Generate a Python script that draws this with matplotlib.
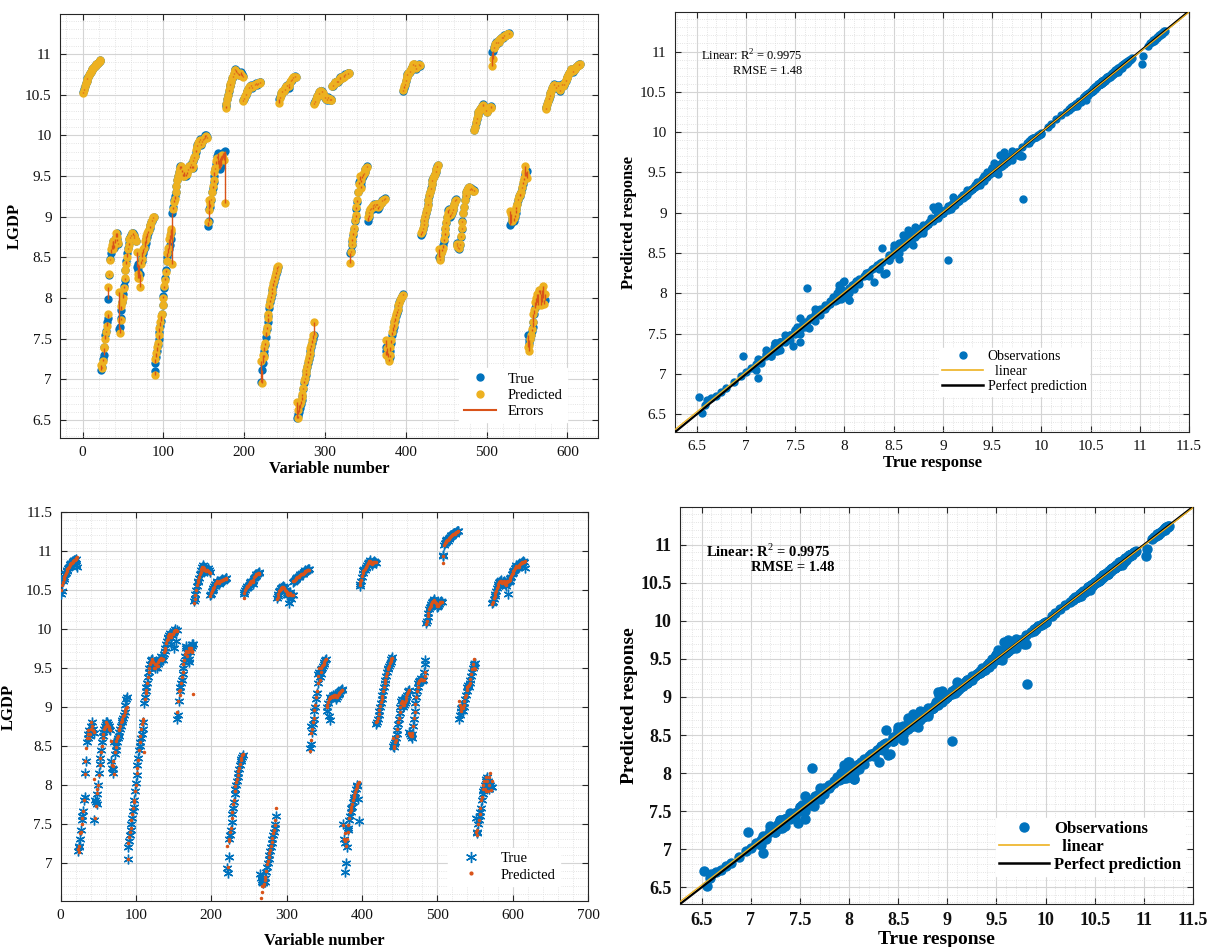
import numpy as np
import matplotlib
matplotlib.use("Agg")
import matplotlib.pyplot as plt
from matplotlib.ticker import MultipleLocator
from matplotlib.lines import Line2D

plt.rcParams['font.family'] = ['Liberation Serif', 'DejaVu Serif']
plt.rcParams['mathtext.fontset'] = 'custom'
plt.rcParams['mathtext.rm'] = 'Liberation Serif'
plt.rcParams['mathtext.bf'] = 'Liberation Serif:bold'

# LGDP, 28 groups of 22 observations each
true_lgdp = [
    10.53, 10.57, 10.61, 10.64, 10.67, 10.70, 10.72, 10.74, 10.76, 10.78, 10.80, 10.81, 10.83, 10.84, 10.85, 10.86, 10.87, 10.88, 10.89, 10.90, 10.91, 10.92,
    7.12, 7.15, 7.25, 7.30, 7.40, 7.55, 7.60, 7.70, 7.75, 7.99, 8.28, 8.48, 8.55, 8.60, 8.65, 8.70, 8.62, 8.68, 8.75, 8.80, 8.72, 8.66,
    7.62, 7.64, 7.75, 7.85, 7.95, 8.05, 8.15, 8.22, 8.35, 8.45, 8.55, 8.62, 8.68, 8.72, 8.75, 8.78, 8.80, 8.80, 8.78, 8.75, 8.72, 8.70,
    8.38, 8.42, 8.35, 8.40, 8.30, 8.45, 8.50, 8.45, 8.55, 8.60, 8.63, 8.68, 8.72, 8.75, 8.80, 8.83, 8.86, 8.90, 8.93, 8.95, 8.98, 9.00,
    7.10, 7.20, 7.28, 7.35, 7.42, 7.50, 7.58, 7.66, 7.72, 7.80, 7.92, 8.02, 8.12, 8.25, 8.35, 8.45, 8.50, 8.55, 8.60, 8.65, 8.72, 8.80,
    9.05, 9.12, 9.20, 9.25, 9.30, 9.38, 9.45, 9.50, 9.55, 9.60, 9.62, 9.60, 9.55, 9.52, 9.50, 9.52, 9.55, 9.50, 9.55, 9.58, 9.60, 9.62,
    9.60, 9.65, 9.62, 9.60, 9.68, 9.72, 9.75, 9.80, 9.85, 9.88, 9.90, 9.92, 9.95, 9.90, 9.88, 9.92, 9.95, 9.97, 9.98, 10.00, 10.00, 9.98,
    8.88, 8.95, 9.10, 9.12, 9.20, 9.30, 9.35, 9.42, 9.50, 9.58, 9.65, 9.75, 9.78, 9.70, 9.60, 9.58, 9.62, 9.70, 9.75, 9.78, 9.80, 9.81,
    10.36, 10.38, 10.45, 10.50, 10.55, 10.60, 10.62, 10.65, 10.70, 10.72, 10.75, 10.80, 10.82, 10.80, 10.78, 10.76, 10.75, 10.74, 10.76, 10.78, 10.75, 10.73,
    10.43, 10.45, 10.48, 10.50, 10.53, 10.55, 10.57, 10.58, 10.60, 10.62, 10.60, 10.58, 10.60, 10.62, 10.63, 10.64, 10.63, 10.62, 10.63, 10.64, 10.65, 10.65,
    6.97, 7.12, 7.20, 7.30, 7.35, 7.42, 7.52, 7.62, 7.70, 7.78, 7.88, 7.95, 8.00, 8.05, 8.10, 8.15, 8.20, 8.25, 8.30, 8.33, 8.36, 8.38,
    10.45, 10.47, 10.50, 10.52, 10.53, 10.55, 10.54, 10.56, 10.58, 10.60, 10.62, 10.60, 10.58, 10.62, 10.65, 10.67, 10.68, 10.70, 10.70, 10.72, 10.73, 10.72,
    6.52, 6.55, 6.58, 6.60, 6.65, 6.70, 6.75, 6.80, 6.88, 6.95, 7.00, 7.05, 7.10, 7.15, 7.20, 7.25, 7.30, 7.35, 7.40, 7.45, 7.50, 7.55,
    10.40, 10.42, 10.45, 10.48, 10.50, 10.52, 10.53, 10.54, 10.55, 10.54, 10.52, 10.50, 10.48, 10.46, 10.44, 10.43, 10.45, 10.47, 10.45, 10.43, 10.44, 10.43,
    10.60, 10.61, 10.63, 10.64, 10.65, 10.66, 10.67, 10.66, 10.68, 10.70, 10.71, 10.72, 10.70, 10.71, 10.73, 10.74, 10.75, 10.74, 10.75, 10.76, 10.77, 10.77,
    8.55, 8.58, 8.65, 8.70, 8.78, 8.85, 8.95, 9.00, 9.10, 9.18, 9.30, 9.42, 9.45, 9.38, 9.42, 9.48, 9.50, 9.52, 9.55, 9.58, 9.60, 9.62,
    8.95, 9.00, 9.05, 9.08, 9.10, 9.12, 9.10, 9.13, 9.15, 9.12, 9.14, 9.16, 9.15, 9.10, 9.12, 9.15, 9.17, 9.18, 9.20, 9.21, 9.22, 9.23,
    7.40, 7.35, 7.30, 7.32, 7.25, 7.28, 7.35, 7.45, 7.55, 7.60, 7.65, 7.70, 7.72, 7.78, 7.82, 7.85, 7.90, 7.95, 7.98, 8.00, 8.03, 8.05,
    10.55, 10.58, 10.62, 10.67, 10.72, 10.75, 10.77, 10.76, 10.78, 10.80, 10.82, 10.84, 10.86, 10.88, 10.86, 10.84, 10.82, 10.85, 10.86, 10.87, 10.86, 10.85,
    8.78, 8.80, 8.85, 8.90, 8.95, 9.00, 9.05, 9.10, 9.15, 9.20, 9.25, 9.30, 9.35, 9.40, 9.45, 9.48, 9.50, 9.52, 9.55, 9.58, 9.62, 9.64,
    8.50, 8.48, 8.52, 8.55, 8.60, 8.65, 8.70, 8.78, 8.85, 8.92, 9.00, 9.08, 9.10, 9.05, 9.00, 9.02, 9.05, 9.08, 9.12, 9.15, 9.20, 9.22,
    8.68, 8.65, 8.62, 8.60, 8.65, 8.75, 8.85, 8.95, 9.05, 9.12, 9.20, 9.25, 9.30, 9.33, 9.35, 9.37, 9.35, 9.33, 9.35, 9.34, 9.32, 9.33,
    10.07, 10.10, 10.15, 10.20, 10.25, 10.28, 10.30, 10.32, 10.34, 10.36, 10.38, 10.37, 10.35, 10.33, 10.30, 10.28, 10.30, 10.32, 10.34, 10.35, 10.36, 10.35,
    11.02, 11.03, 11.08, 11.10, 11.12, 11.14, 11.15, 11.13, 11.15, 11.17, 11.18, 11.20, 11.21, 11.20, 11.22, 11.23, 11.22, 11.23, 11.24, 11.25, 11.25, 11.26,
    8.90, 8.92, 8.95, 8.98, 9.00, 8.95, 9.00, 9.05, 9.10, 9.15, 9.20, 9.25, 9.28, 9.25, 9.30, 9.35, 9.40, 9.45, 9.50, 9.52, 9.55, 9.56,
    7.55, 7.48, 7.45, 7.50, 7.55, 7.60, 7.65, 7.70, 7.80, 7.88, 7.92, 7.95, 8.00, 8.05, 8.08, 8.10, 8.05, 7.98, 7.95, 8.00, 7.97, 7.97,
    10.33, 10.35, 10.38, 10.42, 10.45, 10.48, 10.52, 10.55, 10.58, 10.60, 10.62, 10.63, 10.60, 10.58, 10.60, 10.62, 10.60, 10.58, 10.55, 10.60, 10.63, 10.62,
    10.60, 10.62, 10.65, 10.67, 10.70, 10.72, 10.74, 10.76, 10.78, 10.80, 10.82, 10.80, 10.78, 10.80, 10.82, 10.83, 10.84, 10.85, 10.86, 10.87, 10.86, 10.87,
]

pred_lgdp = [
    10.52, 10.56, 10.60, 10.64, 10.67, 10.69, 10.72, 10.74, 10.77, 10.78, 10.80, 10.82, 10.83, 10.84, 10.85, 10.86, 10.87, 10.88, 10.89, 10.90, 10.91, 10.92,
    7.18, 7.14, 7.22, 7.38, 7.40, 7.50, 7.58, 7.66, 7.80, 8.14, 8.30, 8.47, 8.60, 8.65, 8.70, 8.60, 8.65, 8.72, 8.80, 8.75, 8.70, 8.68,
    8.07, 7.57, 7.73, 7.90, 7.95, 8.00, 8.12, 8.25, 8.35, 8.42, 8.50, 8.60, 8.65, 8.72, 8.74, 8.76, 8.80, 8.78, 8.76, 8.74, 8.72, 8.70,
    8.56, 8.25, 8.30, 8.24, 8.14, 8.42, 8.56, 8.48, 8.60, 8.62, 8.70, 8.72, 8.76, 8.80, 8.82, 8.84, 8.88, 8.90, 8.93, 8.96, 8.99, 9.00,
    7.05, 7.25, 7.33, 7.40, 7.45, 7.55, 7.63, 7.70, 7.78, 7.80, 7.92, 8.00, 8.15, 8.22, 8.32, 8.45, 8.55, 8.62, 8.72, 8.78, 8.82, 8.85,
    8.42, 9.10, 9.18, 9.22, 9.30, 9.38, 9.45, 9.50, 9.55, 9.58, 9.60, 9.62, 9.57, 9.50, 9.55, 9.50, 9.55, 9.52, 9.53, 9.57, 9.60, 9.62,
    9.62, 9.63, 9.60, 9.62, 9.70, 9.73, 9.75, 9.82, 9.86, 9.87, 9.91, 9.93, 9.94, 9.90, 9.89, 9.93, 9.94, 9.96, 9.97, 9.98, 9.99, 9.97,
    8.93, 9.08, 9.20, 9.15, 9.22, 9.30, 9.38, 9.45, 9.55, 9.60, 9.68, 9.72, 9.70, 9.65, 9.70, 9.72, 9.75, 9.76, 9.75, 9.72, 9.70, 9.17,
    10.33, 10.38, 10.44, 10.50, 10.56, 10.60, 10.63, 10.66, 10.70, 10.73, 10.77, 10.80, 10.80, 10.78, 10.76, 10.75, 10.74, 10.75, 10.76, 10.74, 10.73, 10.72,
    10.42, 10.46, 10.48, 10.51, 10.53, 10.54, 10.57, 10.59, 10.60, 10.61, 10.60, 10.59, 10.61, 10.62, 10.62, 10.63, 10.63, 10.63, 10.64, 10.64, 10.65, 10.64,
    7.22, 6.95, 7.30, 7.28, 7.40, 7.45, 7.58, 7.65, 7.75, 7.80, 7.92, 7.98, 8.03, 8.07, 8.12, 8.18, 8.22, 8.27, 8.32, 8.35, 8.38, 8.39,
    10.40, 10.46, 10.50, 10.52, 10.54, 10.55, 10.55, 10.57, 10.58, 10.60, 10.61, 10.60, 10.60, 10.63, 10.66, 10.68, 10.69, 10.70, 10.71, 10.72, 10.72, 10.71,
    6.72, 6.52, 6.62, 6.68, 6.70, 6.73, 6.78, 6.82, 6.90, 6.98, 7.02, 7.08, 7.12, 7.17, 7.22, 7.27, 7.32, 7.38, 7.42, 7.48, 7.55, 7.70,
    10.38, 10.41, 10.45, 10.48, 10.50, 10.51, 10.53, 10.54, 10.54, 10.53, 10.52, 10.50, 10.48, 10.47, 10.45, 10.44, 10.45, 10.46, 10.45, 10.44, 10.43, 10.43,
    10.61, 10.62, 10.63, 10.64, 10.65, 10.66, 10.66, 10.67, 10.68, 10.69, 10.70, 10.71, 10.70, 10.71, 10.72, 10.73, 10.74, 10.74, 10.75, 10.75, 10.76, 10.76,
    8.43, 8.57, 8.66, 8.72, 8.80, 8.86, 8.96, 9.02, 9.12, 9.20, 9.30, 9.40, 9.50, 9.35, 9.45, 9.50, 9.52, 9.54, 9.55, 9.58, 9.60, 9.61,
    9.00, 9.02, 9.06, 9.10, 9.11, 9.12, 9.12, 9.14, 9.14, 9.13, 9.15, 9.15, 9.14, 9.12, 9.13, 9.15, 9.17, 9.18, 9.19, 9.20, 9.21, 9.22,
    7.48, 7.30, 7.38, 7.28, 7.22, 7.30, 7.40, 7.48, 7.58, 7.65, 7.68, 7.72, 7.76, 7.80, 7.84, 7.87, 7.91, 7.94, 7.97, 8.00, 8.02, 8.04,
    10.56, 10.60, 10.63, 10.68, 10.72, 10.74, 10.76, 10.77, 10.79, 10.80, 10.82, 10.84, 10.87, 10.87, 10.85, 10.84, 10.83, 10.85, 10.86, 10.86, 10.86, 10.86,
    8.80, 8.82, 8.86, 8.91, 8.96, 9.01, 9.06, 9.10, 9.14, 9.20, 9.26, 9.30, 9.34, 9.40, 9.44, 9.48, 9.50, 9.53, 9.56, 9.59, 9.61, 9.63,
    8.60, 8.47, 8.50, 8.55, 8.58, 8.62, 8.72, 8.80, 8.86, 8.93, 9.00, 9.05, 9.08, 9.05, 9.02, 9.03, 9.06, 9.09, 9.12, 9.16, 9.19, 9.21,
    8.66, 8.64, 8.63, 8.62, 8.66, 8.76, 8.86, 8.94, 9.04, 9.12, 9.20, 9.26, 9.30, 9.33, 9.35, 9.36, 9.35, 9.34, 9.34, 9.33, 9.32, 9.32,
    10.06, 10.10, 10.16, 10.21, 10.25, 10.28, 10.30, 10.32, 10.34, 10.36, 10.37, 10.36, 10.35, 10.33, 10.31, 10.29, 10.30, 10.32, 10.33, 10.35, 10.35, 10.34,
    10.85, 10.94, 11.07, 11.10, 11.12, 11.13, 11.14, 11.14, 11.15, 11.17, 11.18, 11.19, 11.20, 11.21, 11.22, 11.22, 11.22, 11.23, 11.24, 11.24, 11.25, 11.25,
    9.07, 9.03, 8.95, 8.98, 9.00, 8.98, 9.02, 9.08, 9.12, 9.15, 9.22, 9.25, 9.27, 9.28, 9.30, 9.36, 9.42, 9.48, 9.55, 9.62, 9.50, 9.48,
    7.40, 7.35, 7.42, 7.50, 7.55, 7.62, 7.70, 7.80, 7.85, 7.95, 8.00, 8.05, 7.95, 7.92, 8.10, 8.05, 7.92, 8.00, 8.10, 8.15, 7.93, 8.05,
    10.32, 10.35, 10.39, 10.42, 10.46, 10.49, 10.52, 10.55, 10.58, 10.60, 10.62, 10.62, 10.60, 10.59, 10.60, 10.61, 10.60, 10.58, 10.56, 10.60, 10.62, 10.62,
    10.61, 10.63, 10.65, 10.68, 10.70, 10.72, 10.74, 10.76, 10.78, 10.80, 10.81, 10.80, 10.79, 10.80, 10.82, 10.83, 10.84, 10.85, 10.86, 10.86, 10.86, 10.87,
]

# second model run (bottom-left panel): values that differ from the first run
true_b_changes = {
    0: 10.45, 1: 10.48, 20: 10.82, 21: 10.80,
    22: 7.15, 23: 7.20, 24: 7.22, 26: 7.42, 29: 7.67, 30: 7.80, 31: 7.85, 32: 8.15, 33: 8.30,
    44: 7.55, 45: 7.80, 46: 7.78, 47: 7.88, 48: 7.76, 49: 8.00, 50: 8.15, 51: 8.27,
    66: 8.30, 67: 8.22, 68: 8.15, 69: 8.20, 70: 8.55, 71: 8.40, 85: 9.02, 86: 9.10, 87: 9.12,
    88: 7.05, 145: 9.80, 150: 9.75, 152: 9.85,
    154: 8.85, 155: 8.90, 156: 9.07, 157: 9.25,
    220: 6.93, 221: 6.87, 222: 7.07,
    264: 6.85, 265: 6.80, 266: 6.78, 267: 6.75, 268: 6.74, 269: 6.76, 285: 7.60,
    302: 10.33, 305: 10.38,
    330: 8.47, 331: 8.52, 332: 8.75, 333: 8.68, 355: 8.88, 356: 8.83,
    374: 7.50, 375: 7.30, 376: 7.25, 377: 6.88, 378: 7.00, 379: 7.20, 380: 7.42, 394: 7.82, 395: 7.53,
    481: 9.45, 482: 9.55, 483: 9.60,
    506: 10.95, 507: 10.93, 528: 8.85, 529: 8.90,
    550: 7.58, 551: 7.40, 552: 7.38, 593: 10.45, 615: 10.78,
}
pred_b_changes = {
    0: 10.50, 264: 6.45, 265: 6.55, 266: 6.62, 267: 6.70,
    481: 9.35, 482: 9.40, 483: 9.45,
}

stats_text = ["Linear: R$^2$ = 0.9975", "RMSE = 1.48"]

blue = "#0072BD"
orange = "#EDB120"
red = "#D95319"
asterisk = (6, 2, 0)   # MATLAB-style '*'

x_idx = np.arange(1, len(true_lgdp) + 1)
y_true = np.array(true_lgdp)
y_pred = np.array(pred_lgdp)

y_true_b = y_true.copy()
for k, v in true_b_changes.items():
    y_true_b[k] = v
y_pred_b = y_pred.copy()
for k, v in pred_b_changes.items():
    y_pred_b[k] = v


def matlab_axes(ax, xmaj, xmin, ymaj, ymin, bold=False, size=10):
    ax.xaxis.set_major_locator(MultipleLocator(xmaj))
    ax.xaxis.set_minor_locator(MultipleLocator(xmin))
    ax.yaxis.set_major_locator(MultipleLocator(ymaj))
    ax.yaxis.set_minor_locator(MultipleLocator(ymin))
    ax.grid(True, which="major", color="#d4d4d4", linewidth=0.8)
    ax.grid(True, which="minor", color="#dcdcdc", linewidth=0.6, linestyle=":")
    ax.set_axisbelow(True)
    ax.tick_params(which="both", direction="in", top=True, right=True,
                   colors="#262626", labelsize=size, pad=6)
    ax.tick_params(which="major", length=4)
    ax.tick_params(which="minor", length=0)
    for s in ax.spines.values():
        s.set_color("#262626")
        s.set_linewidth(0.8)
    for lab in ax.get_xticklabels() + ax.get_yticklabels():
        lab.set_color("#111111")
        if bold:
            lab.set_fontweight("bold")


def fmt(v, pos=None):
    return ("%g" % v)


fig = plt.figure(figsize=(12.15, 9.47), dpi=100)

# ---- top left: true vs predicted with errors
ax1 = fig.add_axes([0.0494, 0.5375, 0.4428, 0.4477])
ax1.plot(x_idx, y_true, 'o', color=blue, ms=5, mec=blue, label="True", zorder=3)
ax1.plot(x_idx, y_pred, 'o', color=orange, ms=5, mec=orange, label="Predicted", zorder=4)
ax1.vlines(x_idx, y_true, y_pred, color=red, linewidth=1.0, zorder=5)
ax1.set_xlim(-28, 638)
ax1.set_ylim(6.28, 11.49)
matlab_axes(ax1, 100, 20, 0.5, 0.1, size=11)
ax1.yaxis.set_major_formatter(plt.FuncFormatter(fmt))
ax1.set_xlabel("Variable number", fontsize=12, fontweight="bold", labelpad=1)
ax1.set_ylabel("LGDP", fontsize=12, fontweight="bold", labelpad=2)
h1 = [Line2D([], [], marker='o', ls='none', color=blue, ms=5),
      Line2D([], [], marker='o', ls='none', color=orange, ms=5),
      Line2D([], [], color=red, lw=1.5)]
leg = ax1.legend(h1, ["True", "Predicted", "Errors"], loc="lower right",
                 bbox_to_anchor=(0.955, 0.02), fontsize=10.5, frameon=True,
                 fancybox=False, edgecolor="white", framealpha=1,
                 handlelength=2.2, borderpad=0.3, labelspacing=0.2)

# ---- scatter helper
def scatter_panel(ax, ms, bold, tick_size, lab_size, txt_size, leg_size, leg_anchor,
                  txt_pos, txt_dx, txt_dy):
    ax.plot(y_true, y_pred, 'o', color=blue, ms=ms, mec=blue, zorder=3,
            label="Observations")
    lims = [6.28, 11.5]
    coef = np.polyfit(y_true, y_pred, 1)
    xs = np.array(lims)
    ax.plot(xs, xs, color="black", lw=1.6, zorder=4, label="Perfect prediction")
    ax.plot(xs, np.polyval(coef, xs), color=orange, lw=0.9, zorder=5, label="linear")
    ax.set_xlim(lims)
    ax.set_ylim(6.28, 11.49)
    matlab_axes(ax, 0.5, 0.1, 0.5, 0.1, bold=bold, size=tick_size)
    ax.xaxis.set_major_formatter(plt.FuncFormatter(fmt))
    ax.yaxis.set_major_formatter(plt.FuncFormatter(fmt))
    ax.set_xlabel("True response", fontsize=lab_size, fontweight="bold", labelpad=1)
    ax.set_ylabel("Predicted response", fontsize=lab_size, fontweight="bold", labelpad=2)
    w = "bold" if bold else "normal"
    ax.text(txt_pos[0], txt_pos[1], stats_text[0], fontsize=txt_size,
            fontweight=w, transform=ax.transAxes, va="center")
    ax.text(txt_pos[0] + txt_dx, txt_pos[1] - txt_dy, stats_text[1], fontsize=txt_size,
            fontweight=w, transform=ax.transAxes, va="center")
    hs = [Line2D([], [], marker='o', ls='none', color=blue, ms=ms),
          Line2D([], [], color=orange, lw=1.2),
          Line2D([], [], color="black", lw=1.8)]
    lg = ax.legend(hs, ["Observations", "  linear", "Perfect prediction"],
                   loc="lower left", bbox_to_anchor=leg_anchor, fontsize=leg_size,
                   frameon=True, fancybox=False, edgecolor="white", framealpha=1,
                   handlelength=3.0, handletextpad=0.3, borderpad=0.2, labelspacing=0.1)
    if bold:
        for t in lg.get_texts():
            t.set_fontweight("bold")


ax2 = fig.add_axes([0.5556, 0.5438, 0.4230, 0.4435])
scatter_panel(ax2, 5, False, 11, 12, 9, 10, (0.50, 0.07), (0.05, 0.895), 0.062, 0.036)

# ---- bottom left: second run
ax3 = fig.add_axes([0.0498, 0.0486, 0.4342, 0.4108])
ax3.plot(x_idx, y_true_b, ls='none', marker=asterisk, color=blue, ms=7, mew=1.0,
         label="True", zorder=3)
ax3.plot(x_idx, y_pred_b, '.', color=red, ms=3, label="Predicted", zorder=4)
ax3.set_xlim(0, 700)
ax3.set_ylim(6.51, 11.5)
matlab_axes(ax3, 100, 20, 0.5, 0.1, size=11)
ax3.yaxis.set_major_formatter(plt.FuncFormatter(fmt))
ax3.set_xlabel("Variable number", fontsize=12, fontweight="bold", labelpad=8)
ax3.set_ylabel("LGDP", fontsize=12, fontweight="bold", labelpad=6)
h3 = [Line2D([], [], marker=asterisk, ls='none', color=blue, ms=8, mew=1.0),
      Line2D([], [], marker='.', ls='none', color=red, ms=4)]
ax3.legend(h3, ["True", "Predicted"], loc="lower right", bbox_to_anchor=(0.96, 0.02),
           fontsize=10.5, frameon=True, fancybox=False, edgecolor="white",
           framealpha=1, handlelength=2.5, borderpad=0.3, labelspacing=0.2)

# ---- bottom right: scatter, bold
ax4 = fig.add_axes([0.5597, 0.0454, 0.4222, 0.4187])
scatter_panel(ax4, 6.5, True, 13, 14, 10.5, 12, (0.60, 0.05), (0.05, 0.89), 0.088, 0.042)

fig.savefig("out.png", dpi=100)
